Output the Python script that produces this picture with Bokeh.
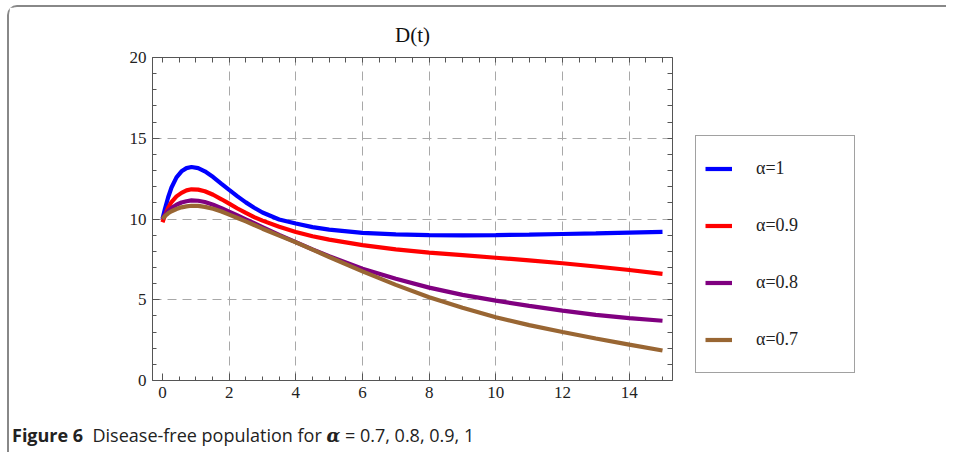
from bokeh.plotting import figure
from bokeh.models import FixedTicker, LinearAxis, Legend, LegendItem, Range1d, Div
from bokeh.layouts import column, row
from bokeh.embed import file_html
from bokeh.resources import INLINE

# ---- data ----
t = [0, 0.07, 0.17, 0.27, 0.42, 0.57, 0.72, 0.87, 1.07, 1.27, 1.52, 1.77, 2.0, 2.25, 2.5, 2.75,
     3.0, 3.5, 4.0, 4.5, 5, 6, 7, 8, 9, 10, 11, 12, 13, 14, 15]
d_a10 = [10.0, 10.6, 11.35, 11.95, 12.58, 12.95, 13.15, 13.22, 13.15, 12.95, 12.6, 12.18, 11.8, 11.4,
         11.03, 10.7, 10.4, 9.97, 9.72, 9.5, 9.34, 9.14, 9.05, 9.0, 8.99, 9.0, 9.03, 9.07, 9.11, 9.16, 9.2]
d_a09 = [9.8, 10.2, 10.7, 11.05, 11.4, 11.62, 11.77, 11.84, 11.82, 11.72, 11.5, 11.22, 10.95, 10.65,
         10.38, 10.12, 9.9, 9.52, 9.2, 8.93, 8.72, 8.38, 8.12, 7.92, 7.76, 7.6, 7.44, 7.26, 7.06, 6.84, 6.6]
d_a08 = [10.0, 10.25, 10.5, 10.68, 10.88, 11.02, 11.1, 11.15, 11.13, 11.05, 10.88, 10.67, 10.45, 10.22,
         9.98, 9.74, 9.5, 9.02, 8.57, 8.12, 7.7, 6.92, 6.3, 5.75, 5.3, 4.95, 4.62, 4.33, 4.06, 3.86, 3.7]
d_a07 = [10.0, 10.18, 10.35, 10.48, 10.62, 10.72, 10.78, 10.82, 10.81, 10.75, 10.63, 10.46, 10.27, 10.06,
         9.85, 9.63, 9.4, 8.97, 8.55, 8.1, 7.65, 6.76, 5.92, 5.15, 4.5, 3.92, 3.43, 3.0, 2.6, 2.22, 1.86]

series = [("α=1", d_a10, "#0000ff"),
          ("α=0.9", d_a09, "#ff0000"),
          ("α=0.8", d_a08, "#800080"),
          ("α=0.7", d_a07, "#996633")]

x_major = [0, 2, 4, 6, 8, 10, 12, 14]
x_minor = [i * 0.5 for i in range(0, 31)]
y_major = [0, 5, 10, 15, 20]
y_minor = list(range(0, 21))
x_grid = [2, 4, 6, 8, 10, 12, 14]
y_grid = [5, 10, 15]

title_text = "D(t)"

W, H = 937, 410
FL, FT, FW, FH = 143, 50, 520, 323
GAP = 23            # frame right edge -> legend box
W1 = FL + FW + GAP  # main figure width
W2 = W - W1         # legend figure width

p = figure(width=W1, height=H, x_range=Range1d(-0.3, 15.3), y_range=Range1d(0, 20),
           output_backend="svg", toolbar_location=None,
           min_border_left=FL, min_border_top=FT, min_border_right=GAP,
           min_border_bottom=H - FT - FH, x_axis_location=None, y_axis_location=None)

p.title.text = title_text
p.title.align = "center"
p.title.text_font = "Liberation Serif"
p.title.text_font_size = "21px"
p.title.text_font_style = "normal"
p.title.text_color = "#111111"
p.title.standoff = 21

frame_col = "#555555"
lab_font = "Liberation Serif"


def style_axis(ax, labels):
    ax.axis_line_color = frame_col
    ax.major_tick_line_color = frame_col
    ax.minor_tick_line_color = frame_col
    ax.major_tick_in = 7
    ax.major_tick_out = 0
    ax.minor_tick_out = 0
    if labels:
        ax.minor_tick_in = 4
        ax.major_label_text_font = lab_font
        ax.major_label_text_font_size = "17px"
        ax.major_label_text_color = "#222222"
        ax.major_label_standoff = 6
    else:
        ax.minor_tick_in = 5
        ax.major_label_standoff = 0
    return ax


p.add_layout(style_axis(LinearAxis(ticker=FixedTicker(ticks=x_major, minor_ticks=x_minor)), True), "below")
p.add_layout(style_axis(LinearAxis(ticker=FixedTicker(ticks=y_major, minor_ticks=y_minor)), True), "left")
p.add_layout(style_axis(LinearAxis(ticker=FixedTicker(ticks=[], minor_ticks=x_minor)), False), "above")
p.add_layout(style_axis(LinearAxis(ticker=FixedTicker(ticks=[], minor_ticks=y_minor)), False), "right")

p.xgrid.ticker = FixedTicker(ticks=x_grid)
p.ygrid.ticker = FixedTicker(ticks=y_grid)
for g in (p.xgrid, p.ygrid):
    g.grid_line_color = "#a8a8a8"
    g.grid_line_dash = "9 6"
    g.grid_line_width = 1
p.outline_line_color = None

for label, vals, col in series:
    p.line(t, vals, line_color=col, line_width=4.2)

# legend lives in its own small figure so that it is not clipped by the main frame;
# its renderers draw the same series, kept outside that figure's visible range
pl = figure(width=W2, height=H, x_range=Range1d(100, 101), y_range=Range1d(100, 101),
            output_backend="svg", toolbar_location=None,
            min_border=0, x_axis_location=None, y_axis_location=None)
pl.grid.visible = False
pl.outline_line_color = None
items = []
for label, vals, col in series:
    r = pl.line(t, vals, line_color=col, line_width=4.2)
    items.append(LegendItem(label=label, renderers=[r]))

legend = Legend(items=items, location=(0, 7), margin=0, padding=9,
                glyph_width=27, glyph_height=47, label_height=47, spacing=10,
                label_standoff=24, label_width=89,
                label_text_font=lab_font, label_text_font_size="18px",
                label_text_color="#222222",
                border_line_color="#444444", border_line_width=1,
                background_fill_color="white", background_fill_alpha=1)
pl.add_layout(legend, "center")

caption = Div(text='<b>Figure 6</b>&nbsp;&nbsp;Disease-free population for '
                   '<b><i style="font-family:\'DejaVu Serif\'">α</i></b> = 0.7, 0.8, 0.9, 1',
              width=W, height=35, margin=(0, 0, 0, 0),
              styles={"font-family": "Open Sans", "font-size": "18px", "color": "#222222",
                      "padding-left": "3px", "padding-top": "6px"})

layout = column(row(p, pl), caption, styles={"border-top": "2px solid #888888",
                                             "border-left": "2px solid #888888",
                                             "border-top-left-radius": "10px",
                                             "margin-left": "7px", "margin-top": "5px"})

open("out.html", "w").write(file_html(layout, INLINE))
